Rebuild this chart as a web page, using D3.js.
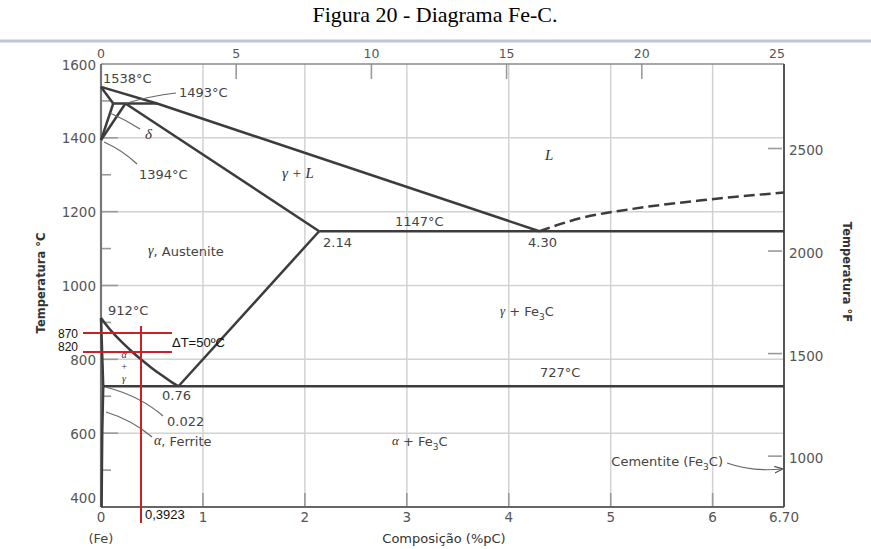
<!DOCTYPE html>
<html>
<head>
<meta charset="utf-8">
<script src="https://cdn.jsdelivr.net/npm/d3@7"></script>
<style>
  html, body { margin: 0; padding: 0; background: #fff; }
  svg { display: block; }
  .tick-label { font-family: "DejaVu Sans", sans-serif; font-size: 13.5px; fill: #555; }
  .note { font-family: "DejaVu Sans", sans-serif; font-size: 13px; fill: #444; }
  .greek { font-family: "Liberation Serif", serif; font-style: italic; font-size: 15px; fill: #333; }
  .mark-note { font-family: "Liberation Sans", Arial, sans-serif; font-size: 13px; fill: #111; }
</style>
</head>
<body>
<svg id="chart" width="871" height="549"></svg>
<script>
// ---- axis ticks ----
const wtTicks = [0, 1, 2, 3, 4, 5, 6, 6.7];
const wtTickLabels = ["0", "1", "2", "3", "4", "5", "6", "6.70"];
const atTicks = [0, 5, 10, 15, 20, 25];
const tempTicks = [400, 600, 800, 1000, 1200, 1400, 1600];
const tempMinorTicks = [500, 700, 900, 1100, 1300, 1500];
const fahrTicks = [1000, 1500, 2000, 2500];
const gridWt = [1, 2, 3, 4, 5, 6];
const gridTemp = [600, 800, 1000, 1200, 1400];

// ---- phase boundaries: [wt% C, °C] ----
const liquidus = [[0, 1538], [0.55, 1493], [4.30, 1147]];
const deltaSolidus = [[0, 1538], [0.12, 1493]];
const deltaSolvus = [[0.12, 1493], [0, 1394]];
const gammaDeltaLine = [[0.24, 1493], [0, 1394]];
const peritectic = [[0.12, 1493], [0.55, 1493]];
const gammaSolidus = [[0.24, 1493], [2.14, 1147]];
const eutectic = [[2.14, 1147], [6.70, 1147]];
const acmLine = [[2.14, 1147], [0.76, 727]];
const a3Line = [[0, 912], [0.1, 877], [0.2, 848], [0.3, 822], [0.4, 798], [0.5, 776], [0.6, 756], [0.7, 737], [0.76, 727]];
const alphaGammaLine = [[0, 912], [0.022, 727]];
const alphaSolvus = [[0.022, 727], [0.012, 600], [0.006, 400]];
const eutectoid = [[0.022, 727], [6.70, 727]];
const graphiteLiquidus = [[4.30, 1147], [4.7, 1182], [5.2, 1207], [5.87, 1230], [6.70, 1252]];

// ---- highlighted example ----
const markTemps = [870, 820];
const markComp = 0.3923;

const svg = d3.select("#chart");
const W = 871, H = 549;

const x = d3.scaleLinear().domain([0, 6.7]).range([101, 784]);
const y = d3.scaleLinear().domain([400, 1600]).range([507, 64]);
const xAt = d3.scaleLinear().domain([0, 25]).range([101, 777]);
// °F axis shares the same vertical extent as the °C axis
const yF = d3.scaleLinear().domain([400 * 9 / 5 + 32, 1600 * 9 / 5 + 32]).range([507, 64]);

const [x0, x1] = x.range();
const [y0, y1] = y.range();

// title and rule below it
svg.append("text")
  .attr("x", 435).attr("y", 22)
  .attr("text-anchor", "middle")
  .style("font-family", "'Liberation Serif', 'Times New Roman', serif")
  .style("font-size", "22px").style("fill", "#000")
  .text("Figura 20 - Diagrama Fe-C.");
svg.append("line")
  .attr("x1", 0).attr("x2", W).attr("y1", 41).attr("y2", 41)
  .attr("stroke", "#bcc7d3").attr("stroke-width", 3);

// grid
const grid = svg.append("g");
grid.selectAll(".gv").data(gridWt).join("line")
  .attr("x1", d => x(d)).attr("x2", d => x(d))
  .attr("y1", y1).attr("y2", y0)
  .attr("stroke", "#d2d2d2").attr("stroke-width", 1.5);
grid.selectAll(".gh").data(gridTemp).join("line")
  .attr("x1", x0).attr("x2", x1)
  .attr("y1", d => y(d)).attr("y2", d => y(d))
  .attr("stroke", "#d2d2d2").attr("stroke-width", 1.5);

// inner tick marks
const ticks = svg.append("g").attr("stroke", "#9a9a9a").attr("stroke-width", 1.6);
ticks.selectAll(".tb").data(gridWt).join("line")
  .attr("x1", d => x(d)).attr("x2", d => x(d)).attr("y1", y0).attr("y2", y0 - 14);
ticks.selectAll(".tt").data(atTicks.slice(1, -1)).join("line")
  .attr("x1", d => xAt(d)).attr("x2", d => xAt(d)).attr("y1", y1).attr("y2", y1 + 15);
ticks.selectAll(".tl").data(gridTemp).join("line")
  .attr("x1", x0).attr("x2", x0 + 17).attr("y1", d => y(d)).attr("y2", d => y(d));
ticks.selectAll(".tm").data(tempMinorTicks).join("line")
  .attr("x1", x0).attr("x2", x0 + 10).attr("y1", d => y(d)).attr("y2", d => y(d));
ticks.selectAll(".tf").data(fahrTicks).join("line")
  .attr("x1", x1 - 16).attr("x2", x1 - 2).attr("y1", d => yF(d)).attr("y2", d => yF(d));

// frame
const frame = svg.append("g").attr("fill", "none");
frame.append("line").attr("x1", x0).attr("x2", x1).attr("y1", y1).attr("y2", y1)
  .attr("stroke", "#8a8a8a").attr("stroke-width", 1.6);
frame.append("line").attr("x1", x0).attr("x2", x1).attr("y1", y0).attr("y2", y0)
  .attr("stroke", "#666").attr("stroke-width", 2);
frame.append("line").attr("x1", x0).attr("x2", x0).attr("y1", y1).attr("y2", y0)
  .attr("stroke", "#777").attr("stroke-width", 2.2);
frame.append("line").attr("x1", x1).attr("x2", x1).attr("y1", y1).attr("y2", y0)
  .attr("stroke", "#555").attr("stroke-width", 2);

// tick labels
const labels = svg.append("g");
labels.selectAll(".lb").data(wtTicks).join("text")
  .attr("class", "tick-label")
  .attr("x", d => x(d)).attr("y", 518)
  .attr("text-anchor", "middle").attr("dominant-baseline", "middle")
  .text((d, i) => wtTickLabels[i]);
labels.selectAll(".lt").data(atTicks).join("text")
  .attr("class", "tick-label")
  .attr("x", d => xAt(d)).attr("y", 54)
  .attr("text-anchor", "middle").attr("dominant-baseline", "middle")
  .style("font-size", "12.5px")
  .text(d => d);
labels.selectAll(".ll").data(tempTicks).join("text")
  .attr("class", "tick-label")
  .attr("x", x0 - 5).attr("y", d => y(d) + (d === 400 ? -8 : 1.5))
  .attr("text-anchor", "end").attr("dominant-baseline", "middle")
  .text(d => d);
labels.selectAll(".lf").data(fahrTicks).join("text")
  .attr("class", "tick-label")
  .attr("x", x1 + 5).attr("y", d => yF(d) + 3)
  .attr("text-anchor", "start").attr("dominant-baseline", "middle")
  .text(d => d);

// axis titles
svg.append("text").attr("class", "note")
  .attr("x", 444).attr("y", 539).attr("text-anchor", "middle").attr("dominant-baseline", "middle")
  .style("fill", "#333").text("Composição (%pC)");
svg.append("text").attr("class", "note")
  .attr("x", x(0)).attr("y", 539).attr("text-anchor", "middle").attr("dominant-baseline", "middle")
  .style("fill", "#444").text("(Fe)");
svg.append("text").attr("class", "note")
  .attr("transform", "translate(41,283) rotate(-90)")
  .attr("text-anchor", "middle").attr("dominant-baseline", "middle")
  .style("font-size", "11.5px").style("fill", "#333").style("font-weight", "bold")
  .text("Temperatura °C");
svg.append("text").attr("class", "note")
  .attr("transform", "translate(846,272) rotate(90)")
  .attr("text-anchor", "middle").attr("dominant-baseline", "middle")
  .style("font-size", "11.5px").style("fill", "#333").style("font-weight", "bold")
  .text("Temperatura °F");

// phase boundaries
const line = d3.line().x(d => x(d[0])).y(d => y(d[1]));
const curve = d3.line().x(d => x(d[0])).y(d => y(d[1])).curve(d3.curveMonotoneY);
const phase = svg.append("g").attr("fill", "none").attr("stroke", "#3c3c3c")
  .attr("stroke-width", 2.5).attr("stroke-linejoin", "round");
[liquidus, deltaSolidus, deltaSolvus, gammaDeltaLine, peritectic, gammaSolidus,
 eutectic, acmLine, alphaGammaLine, eutectoid].forEach(seg => {
  phase.append("path").attr("d", line(seg));
});
phase.append("path").attr("d", curve(a3Line));
phase.append("path").attr("d", curve(alphaSolvus));
phase.append("path").attr("d", d3.line().x(d => x(d[0])).y(d => y(d[1])).curve(d3.curveMonotoneX)(graphiteLiquidus))
  .attr("stroke-dasharray", "11,5");

// leaders
svg.append("defs").append("marker")
  .attr("id", "arrow").attr("viewBox", "0 0 10 10").attr("refX", 9).attr("refY", 5)
  .attr("markerWidth", 7).attr("markerHeight", 7).attr("orient", "auto")
  .append("path").attr("d", "M0,1 L10,5 L0,9").attr("fill", "none").attr("stroke", "#555").attr("stroke-width", 1.4);

const leaders = svg.append("g").attr("fill", "none").attr("stroke", "#666").attr("stroke-width", 1.2);
leaders.append("path").attr("d", `M176,93 Q150,96 ${x(0.24)},${y(1493)}`);
leaders.append("path").attr("d", `M110,113 Q126,120 140,129`);
leaders.append("path").attr("d", `M${x(0) + 3},${y(1394) + 2} Q122,150 137,164`);
leaders.append("path").attr("d", `M${x(0.022) + 3},${y(727) + 1} Q140,396 163,416`);
leaders.append("path").attr("d", `M${x(0.01) + 4},412 Q132,420 152,437`);
leaders.append("path").attr("d", `M727,463 Q752,472 ${x1 - 2},469`).attr("marker-end", "url(#arrow)");

// region and point annotations
const note = (tx, ty, txt, cls, anchor) => svg.append("text")
  .attr("class", cls || "note").attr("x", tx).attr("y", ty)
  .attr("text-anchor", anchor || "start").attr("dominant-baseline", "middle").text(txt);

note(103, 79, "1538°C");
note(179, 93, "1493°C");
note(139, 175, "1394°C");
note(395, 222, "1147°C");
note(323, 243, "2.14");
note(528, 243, "4.30");
note(108, 311, "912°C");
note(162, 396, "0.76");
note(167, 422, "0.022");
note(540, 373, "727°C");
note(145, 136, "δ", "greek");
note(282, 175, "γ + L", "greek");
note(545, 157, "L", "greek");

const austenite = note(148, 252, "", "note");
austenite.append("tspan").attr("class", "greek").style("font-size", "14px").text("γ");
austenite.append("tspan").text(", Austenite");

const ferrite = note(154, 442, "", "note");
ferrite.append("tspan").attr("class", "greek").style("font-size", "14px").text("α");
ferrite.append("tspan").text(", Ferrite");

// α + γ written vertically inside the narrow two-phase field
[["α", 356], ["+", 368], ["γ", 380]].forEach(([c, ty]) => {
  svg.append("text").attr("class", "greek").attr("x", 124).attr("y", ty)
    .attr("text-anchor", "middle").attr("dominant-baseline", "middle")
    .style("font-size", "10px").text(c);
});

const gFe = note(500, 312, "", "note");
gFe.append("tspan").attr("class", "greek").style("font-size", "13px").text("γ");
gFe.append("tspan").text(" + Fe");
gFe.append("tspan").attr("baseline-shift", "sub").style("font-size", "9px").text("3");
gFe.append("tspan").text("C");

const aFe = note(392, 442, "", "note");
aFe.append("tspan").attr("class", "greek").style("font-size", "13px").text("α");
aFe.append("tspan").text(" + Fe");
aFe.append("tspan").attr("baseline-shift", "sub").style("font-size", "9px").text("3");
aFe.append("tspan").text("C");

const cem = note(723, 462, "", "note", "end");
cem.append("tspan").text("Cementite (Fe");
cem.append("tspan").attr("baseline-shift", "sub").style("font-size", "9px").text("3");
cem.append("tspan").text("C)");

// highlighted example: two temperatures and one composition
const red = svg.append("g").attr("stroke", "#cc1f26").attr("stroke-width", 2);
red.selectAll(".rh").data(markTemps).join("line")
  .attr("x1", 83).attr("x2", 172)
  .attr("y1", d => Math.round(y(d))).attr("y2", d => Math.round(y(d)));
red.append("line")
  .attr("x1", Math.round(x(markComp))).attr("x2", Math.round(x(markComp)))
  .attr("y1", 326).attr("y2", 523);

// the two temperature labels are nudged apart so they clear the 800 tick label
svg.selectAll(".rl").data(markTemps).join("text")
  .attr("class", "mark-note")
  .style("font-size", "12px")
  .attr("x", 78).attr("y", (d, i) => y(d) + (i === 0 ? 1.5 : -4))
  .attr("text-anchor", "end").attr("dominant-baseline", "middle")
  .text(d => d);
svg.append("text").attr("class", "mark-note")
  .attr("x", 172).attr("y", (y(markTemps[0]) + y(markTemps[1])) / 2 + 0.5)
  .attr("dominant-baseline", "middle")
  .text(`ΔT=${markTemps[0] - markTemps[1]}ºC`);
svg.append("text").attr("class", "mark-note")
  .attr("x", x(markComp) + 4).attr("y", 516)
  .attr("dominant-baseline", "middle")
  .text(String(markComp).replace(".", ","));
</script>
</body>
</html>
